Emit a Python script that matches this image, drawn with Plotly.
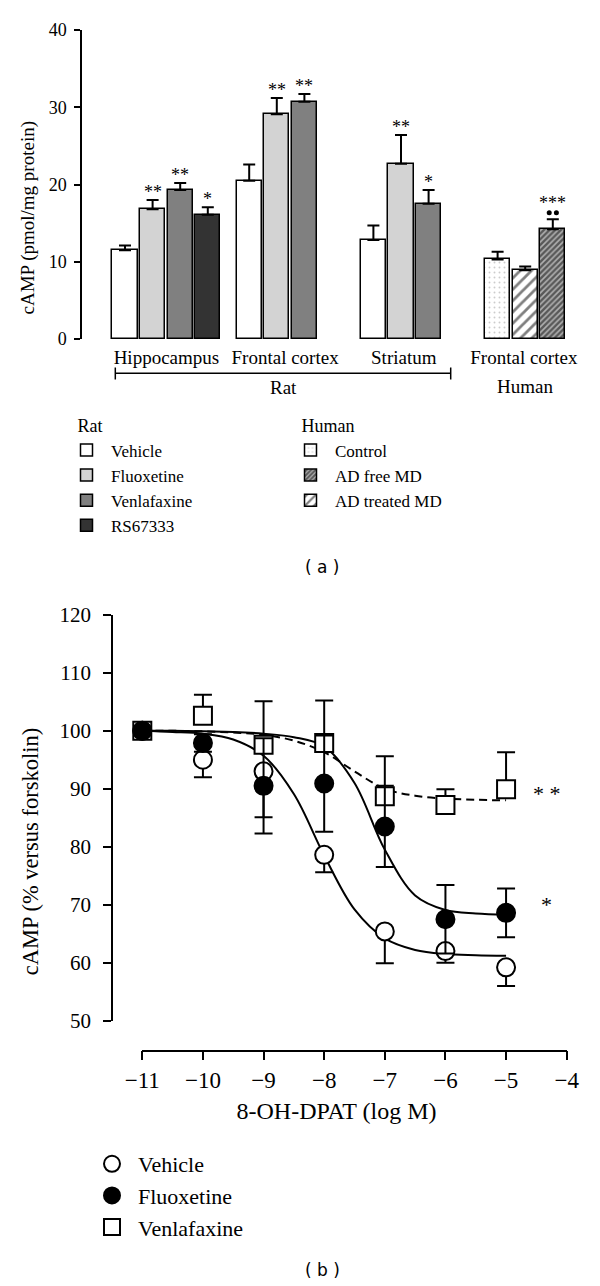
import plotly.graph_objects as go

W, H = 600, 1286


def fx(px):
    return px / W


def fy(px):
    return 1 - px / H


SERIF = "Liberation Serif"
NBSP = "\u00a0"
ZWSP = "\u200b"

# ---------------- Panel (a) data ----------------
region_labels = ["Hippocampus", "Frontal cortex", "Striatum", "Frontal cortex"]
region_label_pos = [1.5, 5.8, 10.1, 14.45]

rat_names = ["Vehicle", "Fluoxetine", "Venlafaxine", "RS67333"]
rat_colors = ["#ffffff", "#d3d3d3", "#808080", "#333333"]
rat_values = {
    "Vehicle": [11.5, 20.5, 12.8],
    "Fluoxetine": [16.8, 29.1, 22.7],
    "Venlafaxine": [19.3, 30.7, 17.5],
    "RS67333": [16.1],
}
rat_errors = {
    "Vehicle": [0.6, 2.1, 1.9],
    "Fluoxetine": [1.2, 2.1, 3.7],
    "Venlafaxine": [0.9, 1.0, 1.8],
    "RS67333": [0.95],
}
rat_signif = {
    "Vehicle": ["", "", ""],
    "Fluoxetine": ["**", "**", "**"],
    "Venlafaxine": ["**", "**", "*"],
    "RS67333": ["*"],
}

human_names = ["Control", "AD treated MD", "AD free MD"]
human_values = [10.3, 8.9, 14.2]
human_errors = [1.0, 0.5, 1.3]
human_signif = ["", "", "***"]
human_vs_treated = [0, 0, 2]          # number of "•" marks (vs AD treated MD)
human_legend_rank = [1, 3, 2]
human_patterns = [
    dict(shape=".", fgcolor="#9a9a9a", bgcolor="#ffffff", size=5, solidity=0.12),
    dict(shape="/", fgcolor="#000000", bgcolor="#ffffff", size=8, solidity=0.35),
    dict(shape="/", fgcolor="#000000", bgcolor="#b0b0b0", size=4, solidity=0.6),
]

# ---------------- Panel (b) data ----------------
log_dose = [-11, -10, -9, -8, -7, -6, -5]
vehicle_b = [100, 95.0, 93.0, 78.6, 65.4, 62.0, 59.2]
vehicle_b_up = [0, 0, 0, 0, 0, 0, 0]
vehicle_b_down = [0, 3.0, 7.9, 3.0, 5.5, 2.0, 3.2]
fluoxetine_b = [100, 97.9, 90.5, 90.9, 83.5, 67.5, 68.6]
fluoxetine_b_up = [0, 1.5, 8.2, 8.3, 7.0, 5.9, 4.2]
fluoxetine_b_down = [0, 1.5, 8.2, 8.3, 7.0, 5.9, 4.2]
venlafaxine_b = [100, 102.6, 97.6, 97.9, 88.7, 87.2, 89.9]
venlafaxine_b_up = [0, 3.6, 7.5, 7.3, 6.9, 2.7, 6.4]
venlafaxine_b_down = [0, 0, 0, 0, 0, 0, 0]

fit_dose = [-11, -10.5, -10, -9.5, -9, -8.5, -8, -7.5, -7, -6.5, -6, -5.5, -5]
vehicle_fit = [100, 99.8, 99.5, 98.5, 95.7, 89.1, 78.5, 69.2, 64.2, 62.2, 61.5, 61.3, 61.2]
fluoxetine_fit = [100, 100, 99.9, 99.8, 99.5, 98.9, 97.3, 91.0, 79.5, 71.6, 69.1, 68.5, 68.3]
venlafaxine_fit = [100, 100, 99.9, 99.7, 99.3, 98.3, 96.3, 93.0, 90.0, 88.8, 88.3, 88.1, 88.0]
end_signif = ["* *", "*"]
end_signif_y = [89.1, 70.0]

# ---------------- Layout helpers ----------------
GROUP_STRIDE = 4.5
BAR_W = 0.91
DOT_DX = 0.13     # half spacing of the two "•" marks, in bar slots
DOT_DY = 0.85     # height of "•" marks above the error cap, in data units


def bar_pos(group, idx):
    return GROUP_STRIDE * group + idx


fig = go.Figure()
annotations = []

# Rat bars
for i, name in enumerate(rat_names):
    vals = rat_values[name]
    errs = rat_errors[name]
    xs = [bar_pos(g, i) for g in range(len(vals))]
    fig.add_trace(go.Bar(
        x=xs, y=vals, width=[BAR_W] * len(vals), name=name,
        marker=dict(color=rat_colors[i], line=dict(color="black", width=1.5)),
        error_y=dict(type="data", array=errs, arrayminus=[0] * len(vals), symmetric=False,
                     color="black", thickness=2, width=6),
        legend="legend", legendrank=i + 1, xaxis="x", yaxis="y",
    ))
    for x, v, e, s in zip(xs, vals, errs, rat_signif[name]):
        if s:
            annotations.append(dict(x=x, y=v + e, xref="x", yref="y", text=s, showarrow=False,
                                    yanchor="bottom", yshift=-4, font=dict(size=18, family=SERIF)))

# Human bars
for i, name in enumerate(human_names):
    x = bar_pos(3, i)
    top = human_values[i] + human_errors[i]
    fig.add_trace(go.Bar(
        x=[x], y=[human_values[i]], width=[BAR_W], name=name,
        marker=dict(color="#ffffff", pattern=human_patterns[i], line=dict(color="black", width=1.5)),
        error_y=dict(type="data", array=[human_errors[i]], arrayminus=[0], symmetric=False,
                     color="black", thickness=2, width=6),
        legend="legend2", legendrank=human_legend_rank[i], xaxis="x", yaxis="y",
    ))
    n = human_vs_treated[i]
    if n:
        fig.add_trace(go.Scatter(
            x=[x + DOT_DX * (2 * k - (n - 1)) for k in range(n)], y=[top + DOT_DY] * n,
            mode="markers", marker=dict(size=5, color="black"), showlegend=False,
            hoverinfo="skip", cliponaxis=False, xaxis="x", yaxis="y",
        ))
    if human_signif[i]:
        annotations.append(dict(x=x, y=top, xref="x", yref="y", text=human_signif[i], showarrow=False,
                                yanchor="bottom", yshift=4, font=dict(size=18, family=SERIF)))

# Panel (b) fitted curves
for ys, dash in [(vehicle_fit, "solid"), (fluoxetine_fit, "solid"), (venlafaxine_fit, "8px,5px")]:
    fig.add_trace(go.Scatter(
        x=fit_dose, y=ys, mode="lines", line=dict(color="black", width=2, dash=dash, shape="spline"),
        showlegend=False, hoverinfo="skip", xaxis="x2", yaxis="y2",
    ))

points = [
    ("Venlafaxine", venlafaxine_b, venlafaxine_b_up, venlafaxine_b_down, "square", "#ffffff", 3),
    ("Vehicle", vehicle_b, vehicle_b_up, vehicle_b_down, "circle", "#ffffff", 1),
    ("Fluoxetine", fluoxetine_b, fluoxetine_b_up, fluoxetine_b_down, "circle", "#000000", 2),
]
for name, ys, up, down, sym, fill, rank in points:
    fig.add_trace(go.Scatter(
        x=log_dose, y=ys, mode="markers", name=name,
        marker=dict(symbol=sym, size=18, color=fill, line=dict(color="black", width=2)),
        error_y=dict(type="data", array=up, arrayminus=down, symmetric=False,
                     color="black", thickness=2, width=9),
        cliponaxis=False, legend="legend3", legendrank=rank, xaxis="x2", yaxis="y2",
    ))

for s, yv in zip(end_signif, end_signif_y):
    annotations.append(dict(x=-4.33, y=yv, xref="x2", yref="y2", text=s, showarrow=False,
                            font=dict(size=22, family=SERIF)))

# Rat / Human grouping labels and panel letters
annotations += [
    dict(x=fx(283), y=fy(387), xref="paper", yref="paper", text="Rat", showarrow=False,
         xanchor="center", yanchor="middle", font=dict(size=19, family=SERIF)),
    dict(x=fx(524.5), y=fy(386.5), xref="paper", yref="paper", text="Human", showarrow=False,
         xanchor="center", yanchor="middle", font=dict(size=19, family=SERIF)),
    dict(x=fx(322), y=fy(567.5), xref="paper", yref="paper", text="( a )", showarrow=False,
         xanchor="center", yanchor="middle", font=dict(size=17, family="DejaVu Sans")),
    dict(x=fx(322), y=fy(1270), xref="paper", yref="paper", text="( b )", showarrow=False,
         xanchor="center", yanchor="middle", font=dict(size=17, family="DejaVu Sans")),
]

shapes = [
    dict(type="line", xref="paper", yref="paper", x0=fx(115.3), x1=fx(450.7), y0=fy(373.3), y1=fy(373.3),
         line=dict(color="black", width=1.5)),
    dict(type="line", xref="paper", yref="paper", x0=fx(115.3), x1=fx(115.3), y0=fy(367.5), y1=fy(379.5),
         line=dict(color="black", width=1.5)),
    dict(type="line", xref="paper", yref="paper", x0=fx(450.7), x1=fx(450.7), y0=fy(367.5), y1=fy(379.5),
         line=dict(color="black", width=1.5)),
]

axis_common = dict(showgrid=False, zeroline=False, color="black", automargin=False)

fig.update_layout(
    width=W, height=H,
    margin=dict(l=0, r=0, t=0, b=0, autoexpand=False),
    paper_bgcolor="white", plot_bgcolor="white",
    font=dict(family=SERIF, color="black", size=18),
    barmode="overlay",
    bargap=0,
    showlegend=True,
    annotations=annotations,
    shapes=shapes,
    xaxis=dict(domain=[fx(82), 1.0], range=[-1.558, 17.21], anchor="y",
               tickmode="array", tickvals=region_label_pos, ticktext=region_labels,
               showline=False, ticks="", tickfont=dict(size=19, family=SERIF),
               ticklabelstandoff=5, **axis_common),
    yaxis=dict(domain=[fy(339), fy(30)], range=[0, 40], anchor="x",
               tickmode="array", tickvals=[0, 10, 20, 30, 40],
               showline=True, linewidth=1.5, linecolor="black",
               ticks="outside", ticklen=6, tickwidth=1.5, tickcolor="black",
               tickfont=dict(size=18, family=SERIF), ticklabelstandoff=4,
               title=dict(text="cAMP (pmol/mg protein)" + NBSP * 14 + ZWSP,
                          font=dict(size=19, family=SERIF), standoff=9),
               **axis_common),
    xaxis2=dict(domain=[fx(142.3), fx(566.7)], range=[-11, -4], anchor="free", position=fy(1050.7),
                tickmode="array", tickvals=[-11, -10, -9, -8, -7, -6, -5, -4],
                showline=True, linewidth=1.5, linecolor="black",
                ticks="outside", ticklen=9, tickwidth=1.5, tickcolor="black",
                tickfont=dict(size=23, family=SERIF), ticklabelstandoff=0,
                title=dict(text="8-OH-DPAT (log M)" + NBSP * 6 + ZWSP,
                           font=dict(size=24, family=SERIF), standoff=9),
                **axis_common),
    yaxis2=dict(domain=[fy(1020.7), fy(614.8)], range=[50, 120], anchor="free", position=fx(112),
                tickmode="array", tickvals=[50, 60, 70, 80, 90, 100, 110, 120],
                showline=True, linewidth=1.5, linecolor="black",
                ticks="outside", ticklen=8, tickwidth=1.5, tickcolor="black",
                tickfont=dict(size=21, family=SERIF), ticklabelstandoff=8,
                title=dict(text="cAMP (% versus forskolin)" + NBSP * 12 + ZWSP,
                           font=dict(size=22.5, family=SERIF), standoff=14),
                **axis_common),
    legend=dict(x=fx(62), y=fy(409), xanchor="left", yanchor="top", bgcolor="rgba(0,0,0,0)",
                font=dict(size=17, family=SERIF), itemwidth=39,
                title=dict(text=NBSP * 3 + "Rat", font=dict(size=18, family=SERIF)), traceorder="normal"),
    legend2=dict(x=fx(286), y=fy(409), xanchor="left", yanchor="top", bgcolor="rgba(0,0,0,0)",
                 font=dict(size=17, family=SERIF), itemwidth=39,
                 title=dict(text=NBSP * 3 + "Human", font=dict(size=18, family=SERIF)), traceorder="normal"),
    legend3=dict(x=fx(86), y=fy(1143), xanchor="left", yanchor="top", bgcolor="rgba(0,0,0,0)",
                 font=dict(size=22, family=SERIF), itemwidth=42, traceorder="normal"),
)

fig.write_html(
    "out.html",
    config={"displayModeBar": False},
    post_script="document.body.style.margin='0px';document.body.style.padding='0px';",
)
